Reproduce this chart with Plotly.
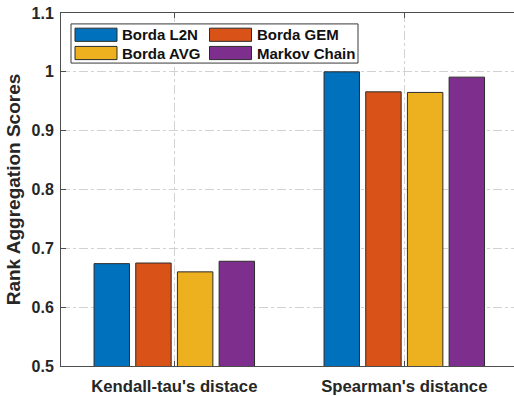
import plotly.graph_objects as go

# Rank aggregation scores per distance measure
categories = ["Kendall-tau's distace", "Spearman's distance"]
series_names = ["Borda L2N", "Borda GEM", "Borda AVG", "Markov Chain"]
borda_l2n = [0.674, 1.000]
borda_gem = [0.675, 0.966]
borda_avg = [0.660, 0.965]
markov_chain = [0.678, 0.991]
y_ticks = [0.5, 0.6, 0.7, 0.8, 0.9, 1.0, 1.1]
y_tick_text = ["0.5", "0.6", "0.7", "0.8", "0.9", "1", "1.1"]

colors = ["#0072BD", "#D95319", "#EDB120", "#7E2F8E"]
series_values = [borda_l2n, borda_gem, borda_avg, markov_chain]

FONT = "Liberation Sans, Arial, sans-serif"
TXT = "#262626"
AX = "#4d4d4d"
GRID = "#d2d2d2"

W, H = 514, 396
ML, MR, MT, MB = 61, 0, 13, 27
PW, PH = W - ML - MR, H - MT - MB

fig = go.Figure()
for name, vals, col in zip(series_names, series_values, colors):
    fig.add_trace(go.Bar(
        x=categories, y=vals, name=name,
        marker=dict(color=col, line=dict(color="#2b2b2b", width=1)),
        showlegend=False,
    ))

# Legend drawn as a boxed 2x2 grid with wide colour swatches
def px_x(x):
    return (x - ML) / PW

def px_y(y):
    return 1 - (y - MT) / PH

shapes = [dict(type="rect", xref="paper", yref="paper",
               x0=px_x(71), x1=px_x(358), y0=px_y(63.5), y1=px_y(24),
               line=dict(color="#3a3a3a", width=1), fillcolor="white", layer="above")]
annotations = []
cols_x = [75, 209.5]
rows_y = [28.3, 46.7]
for i, (name, col) in enumerate(zip(series_names, colors)):
    cx = cols_x[i % 2]
    ry = rows_y[i // 2]
    shapes.append(dict(type="rect", xref="paper", yref="paper",
                       x0=px_x(cx), x1=px_x(cx + 42), y0=px_y(ry + 13.3), y1=px_y(ry),
                       line=dict(color="#2b2b2b", width=1), fillcolor=col, layer="above"))
    annotations.append(dict(x=px_x(cx + 45), y=px_y(ry + 6.8), xref="paper", yref="paper",
                            text="<b>%s</b>" % name, showarrow=False,
                            xanchor="left", yanchor="middle",
                            font=dict(family=FONT, size=15, color="#111111")))

fig.update_layout(
    width=W, height=H,
    margin=dict(l=ML, r=MR, t=MT, b=MB, pad=0),
    paper_bgcolor="white", plot_bgcolor="white",
    barmode="group", bargap=0.275, bargroupgap=0.15,
    font=dict(family=FONT, color=TXT),
    shapes=shapes, annotations=annotations,
)
fig.update_xaxes(
    range=[-0.4926, 1.477],
    showline=True, linecolor=AX, linewidth=1, mirror="ticks",
    ticks="inside", ticklen=5, tickcolor=AX,
    showgrid=True, gridcolor=GRID, griddash="dashdot", gridwidth=1,
    tickfont=dict(family=FONT, size=16.7, color=TXT),
    tickprefix="<b>", ticksuffix="</b>",
    ticklabelstandoff=5,
)
fig.update_yaxes(
    range=[0.5, 1.1],
    tickvals=y_ticks, ticktext=["<b>%s</b>" % t for t in y_tick_text],
    showline=True, linecolor=AX, linewidth=1,
    ticks="inside", ticklen=5, tickcolor=AX,
    showgrid=True, gridcolor=GRID, griddash="dashdot", gridwidth=1,
    zeroline=False,
    tickfont=dict(family=FONT, size=16, color=TXT),
    ticklabelstandoff=3,
    title=dict(text="<b>Rank Aggregation Scores</b>", standoff=5,
               font=dict(family=FONT, size=19, color=TXT)),
)

fig.write_html("out.html")
